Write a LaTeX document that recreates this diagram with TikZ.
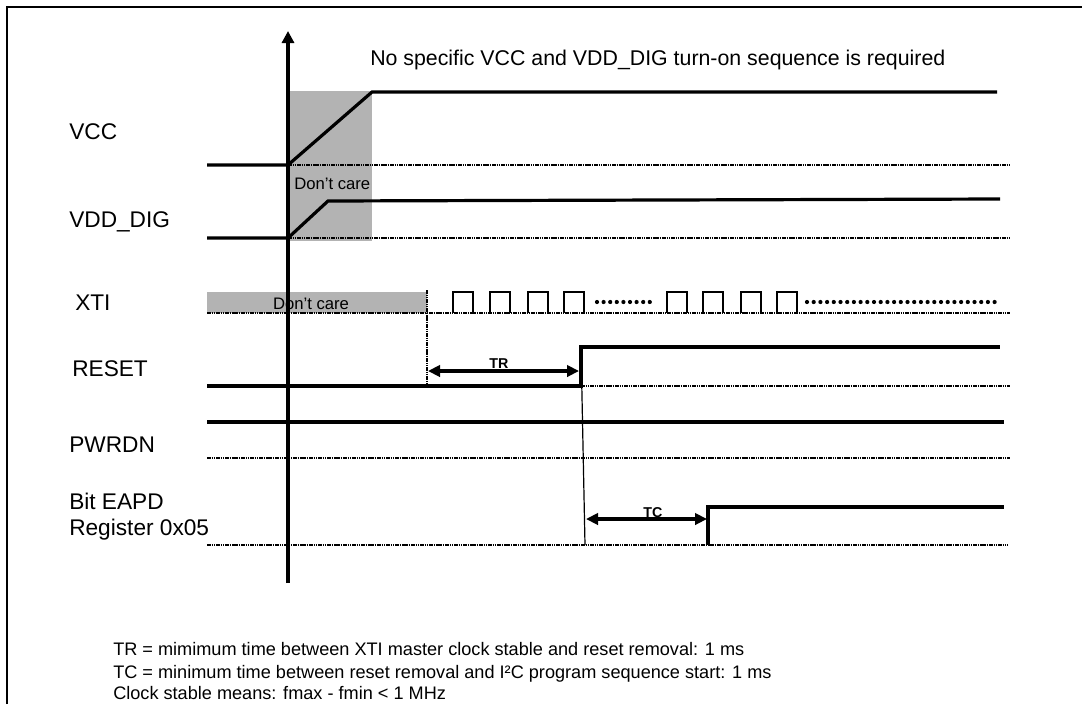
\documentclass[tikz,border=0pt]{standalone}
\usepackage{fontspec}
\setmainfont{Liberation Sans}
\usetikzlibrary{arrows.meta}
\definecolor{dcgray}{HTML}{B3B3B3}
\begin{document}
\begin{tikzpicture}[x=0.75pt,y=-0.75pt,
  sig/.style={line width=2.4pt, line join=miter},
  clk/.style={line width=1.9pt, line join=miter},
  baseln/.style={line width=2pt, dash pattern=on 1.2pt off 0.5pt},
  lbl/.style={anchor=base west, inner sep=0pt, font=\fontsize{17}{20}\selectfont},
  note/.style={anchor=base west, inner sep=0pt, font=\fontsize{13.6}{16}\selectfont},
  dcare/.style={anchor=base west, inner sep=0pt, font=\fontsize{12.5}{14}\selectfont},
  tlbl/.style={anchor=base, inner sep=0pt, font=\bfseries\fontsize{10.7}{12}\selectfont},
  dim/.style={line width=2.6pt, {Triangle[length=9pt,width=8.5pt]}-{Triangle[length=9pt,width=8.5pt]}},
  clkdot/.style={fill=black, draw=none}]
\useasboundingbox (0,0) rectangle (1082,704);
% frame
\draw[line width=2.2pt] (7,704) -- (7,7) -- (1082,7);
% grey don't care areas
\fill[dcgray] (288,91) rectangle (372,241);
\fill[dcgray] (207,292) rectangle (427,313);
% dotted base lines
\draw[baseln] (288,165) -- (1010,165);
\draw[baseln] (288,238) -- (1010,238);
\draw[baseln] (207,313) -- (1010,313);
\draw[baseln] (427,290) -- (427,386);
\draw[baseln] (581,386) -- (1010,386);
\draw[baseln] (207,458) -- (1010,458);
\draw[baseln] (207,545) -- (1008,545);
% time axis
\coordinate (axbot) at (288,583);
\coordinate (axtop) at (288,31);
\draw[line width=2.4pt, -{Triangle[length=9pt,width=9pt]}] (axbot) -- (axtop);
% signals
\draw[sig] (207,165) -- (288,165) -- (372,92) -- (997,92);
\draw[sig] (207,238) -- (288,238) -- (328,201) -- (1000,199);
\coordinate (rstrise) at (581,347);
\coordinate (rstlow) at (581,386);
\draw[sig] (207,386) -- (rstlow) -- (rstrise) -- (1000,347);
\draw[sig] (207,422) -- (1004,422);
\coordinate (eapdrise) at (708,545);
\draw[sig] (eapdrise) -- (708,507) -- (1004,507);
% reset removal marker
\coordinate (rstmark) at (585,545);
\draw[line width=0.9pt] (rstrise) -- (rstmark);
% XTI clock
\foreach \xx in {453,490,528,564,667,703,741,777}
  \draw[clk] (\xx,313) -- (\xx,292) -- ({\xx+20},292) -- ({\xx+20},313);
\foreach \i in {0,...,8}
  \fill[clkdot] ({597+6.6*\i},302) circle (2.1);
\foreach \i in {0,...,28}
  \fill[clkdot] ({807+6.7*\i},302) circle (2.1);
% dimension arrows
\coordinate (tra) at (428,371);
\coordinate (trb) at (579,371);
\draw[dim] (tra) -- (trb);
\node[tlbl] (trl) at (499,368) {TR};
\coordinate (tca) at (586,519);
\coordinate (tcb) at (707,519);
\draw[dim] (tca) -- (tcb);
\node[tlbl] (tcl) at (653,517) {TC};
% texts
\node[anchor=base west, inner sep=0pt, font=\fontsize{16}{19}\selectfont] (title) at (370,65) {No specific VCC and VDD\_DIG turn-on sequence is required};
\node[dcare] (dc1) at (294,189) {Don’t care};
\node[dcare, anchor=base] (dc2) at (311,309) {Don’t care};
\node[lbl] (lvcc) at (69,139) {VCC};
\node[lbl] (lvdd) at (69,227) {VDD\_DIG};
\node[lbl] (lxti) at (75,310) {XTI};
\node[lbl] (lrst) at (72,376) {RESET};
\node[lbl] (lpwr) at (69,452) {PWRDN};
\node[lbl] (leapd) at (69,509) {Bit EAPD};
\node[lbl] (lreg) at (69,535) {Register 0x05};
\node[note] (n1) at (113,655) {TR = mimimum time between XTI master clock stable and reset removal: 1 ms};
\node[note] (n2) at (113,678) {TC = minimum time between reset removal and I²C program sequence start: 1 ms};
\node[note] (n3) at (113,699) {Clock stable means: fmax - fmin < 1 MHz};
\end{tikzpicture}
\end{document}
